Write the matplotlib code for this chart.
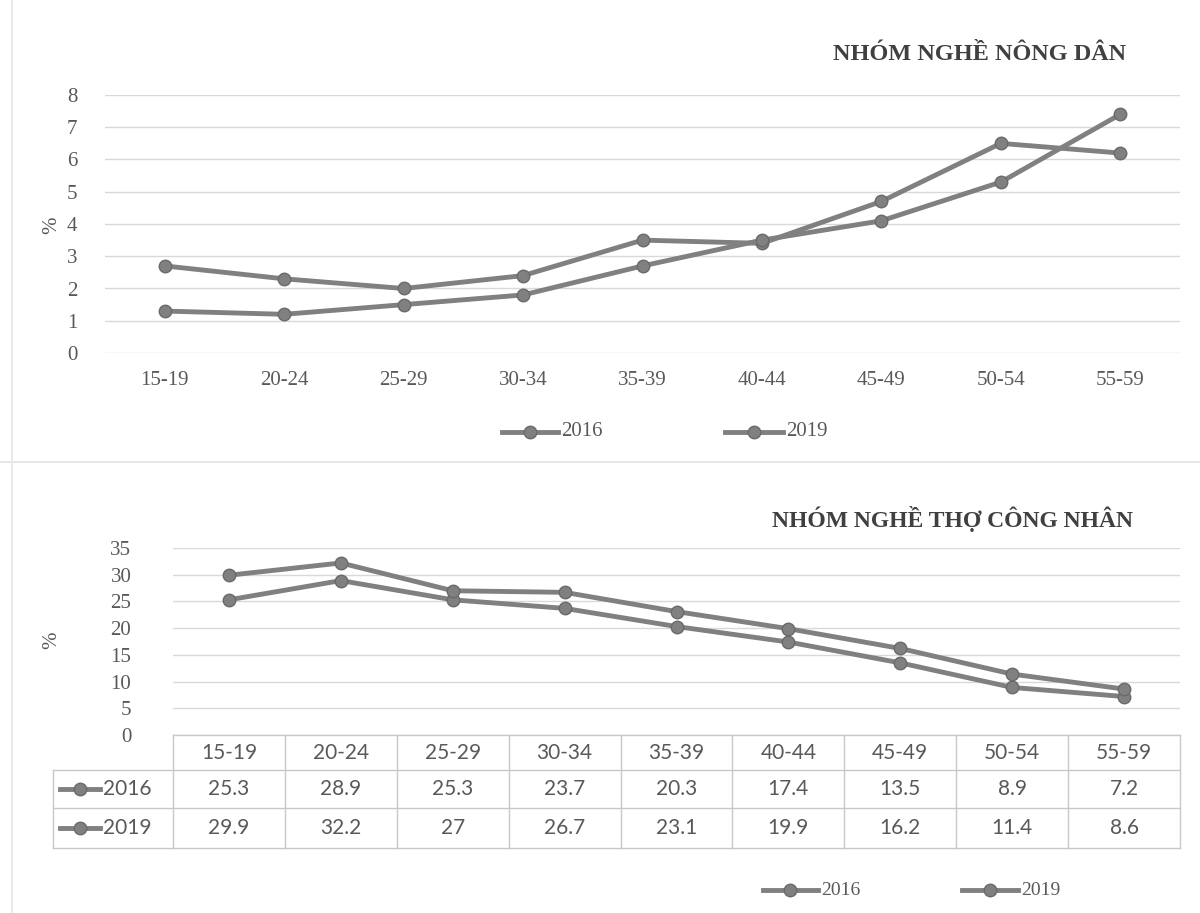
import matplotlib.pyplot as plt
from matplotlib.lines import Line2D
from matplotlib.transforms import blended_transform_factory

# du lieu doc tu hinh
age_groups = ['15-19', '20-24', '25-29', '30-34', '35-39', '40-44', '45-49', '50-54', '55-59']
years = ['2016', '2019']

nong_dan_2016 = [2.7, 2.3, 2.0, 2.4, 3.5, 3.4, 4.7, 6.5, 6.2]
nong_dan_2019 = [1.3, 1.2, 1.5, 1.8, 2.7, 3.5, 4.1, 5.3, 7.4]

cong_nhan_2016 = [25.3, 28.9, 25.3, 23.7, 20.3, 17.4, 13.5, 8.9, 7.2]
cong_nhan_2019 = [29.9, 32.2, 27, 26.7, 23.1, 19.9, 16.2, 11.4, 8.6]

W, H = 1200, 913
LINE_C = '#808080'
EDGE_C = '#6a6a6a'
GRID_C = '#d9d9d9'
TEXT_C = '#595959'
SERIF = ['Liberation Serif', 'DejaVu Serif']
SANS = ['Lato', 'DejaVu Sans']


def fx(px):
    return px / W


def fy(py):
    return 1 - py / H


def legend_item(fig, x0, x1, y, label, fontsize, family):
    fig.add_artist(Line2D([fx(x0), fx(x1)], [fy(y), fy(y)], transform=fig.transFigure,
                          color=LINE_C, lw=3.5))
    fig.add_artist(Line2D([fx((x0 + x1) / 2)], [fy(y)], transform=fig.transFigure,
                          marker='o', ms=9, color=LINE_C, mec=EDGE_C, lw=0))
    fig.text(fx(x1 + 3), fy(y), label, fontsize=fontsize, family=family,
             color=TEXT_C, va='center', ha='left')


def draw_series(ax, values):
    ax.plot(range(len(age_groups)), values, color=LINE_C, lw=3.5, marker='o', ms=9,
            mec=EDGE_C, mfc=LINE_C, zorder=3)


fig = plt.figure(figsize=(W / 100, H / 100), dpi=100)
fig.patch.set_facecolor('white')

# khung giay scan
fig.add_artist(Line2D([fx(0), fx(W)], [fy(462), fy(462)], transform=fig.transFigure,
                      color='#e3e3e3', lw=1.2))
fig.add_artist(Line2D([fx(12), fx(12)], [fy(0), fy(H)], transform=fig.transFigure,
                      color='#e6e6e6', lw=1.2))

# ---- bieu do nong dan ----
ax1 = fig.add_axes([fx(105), fy(353), (1180 - 105) / W, (353 - 95) / H])
draw_series(ax1, nong_dan_2016)
draw_series(ax1, nong_dan_2019)
ax1.set_xlim(-0.5, len(age_groups) - 0.5)
ax1.set_ylim(0, 8)
ax1.set_yticks(range(0, 9))
ax1.set_xticks(range(len(age_groups)))
ax1.set_xticklabels(age_groups)
ax1.grid(axis='y', color=GRID_C, lw=1)
ax1.set_axisbelow(True)
for s in ax1.spines.values():
    s.set_visible(False)
ax1.tick_params(length=0, labelsize=15, labelcolor=TEXT_C)
ax1.tick_params(axis='x', pad=13)
ax1.tick_params(axis='y', pad=20)
for lab in ax1.get_xticklabels() + ax1.get_yticklabels():
    lab.set_family(SERIF)
fig.text(fx(52), fy(225), '%', rotation=90, fontsize=15, family=SERIF, color=TEXT_C,
         ha='center', va='center')
fig.text(fx(980), fy(55), 'NHÓM NGHỀ NÔNG DÂN', fontsize=17.5, fontweight='bold',
         family=SERIF, color='#404040', ha='center', va='center')
legend_item(fig, 502, 558, 432, years[0], 15, SERIF)
legend_item(fig, 725, 783, 432, years[1], 15, SERIF)

# ---- bieu do tho cong nhan ----
ax2 = fig.add_axes([fx(173), fy(735), (1180 - 173) / W, (735 - 548) / H])
draw_series(ax2, cong_nhan_2016)
draw_series(ax2, cong_nhan_2019)
ax2.set_xlim(-0.5, len(age_groups) - 0.5)
ax2.set_ylim(0, 35)
ax2.set_yticks(range(0, 36, 5))
ax2.set_xticks([])
ax2.grid(axis='y', color=GRID_C, lw=1)
ax2.set_axisbelow(True)
for s in ax2.spines.values():
    s.set_visible(False)
ax2.tick_params(length=0, labelsize=15, labelcolor=TEXT_C, pad=30)
for lab in ax2.get_yticklabels():
    lab.set_family(SERIF)
fig.text(fx(52), fy(640), '%', rotation=90, fontsize=15, family=SERIF, color=TEXT_C,
         ha='center', va='center')
fig.text(fx(952), fy(519), 'NHÓM NGHỀ THỢ CÔNG NHÂN', fontsize=17, fontweight='bold',
         family=SERIF, color='#404040', ha='center', va='center')

# bang du lieu duoi truc
tr = blended_transform_factory(ax2.transData, fig.transFigure)
TBL_C = '#c8c8c8'
row_top, row_h1, row_h2, row_bot = 735, 770, 808, 848
n = len(age_groups)
fig.add_artist(Line2D([-0.5, n - 0.5], [fy(row_top), fy(row_top)], transform=tr,
                      color=TBL_C, lw=1))
for y in [row_h1, row_h2, row_bot]:
    fig.add_artist(Line2D([fx(53), fx(1180)], [fy(y), fy(y)], transform=fig.transFigure,
                          color=TBL_C, lw=1))
fig.add_artist(Line2D([fx(53), fx(53)], [fy(row_h1), fy(row_bot)], transform=fig.transFigure,
                      color=TBL_C, lw=1))
for i in range(n + 1):
    fig.add_artist(Line2D([i - 0.5, i - 0.5], [fy(row_top), fy(row_bot)], transform=tr,
                          color=TBL_C, lw=1))
for i, g in enumerate(age_groups):
    fig.text(i, fy((row_top + row_h1) / 2), g, transform=tr, ha='center', va='center',
             fontsize=15, family=SANS, color=TEXT_C)
    fig.text(i, fy((row_h1 + row_h2) / 2), f'{cong_nhan_2016[i]:g}', transform=tr,
             ha='center', va='center', fontsize=15, family=SANS, color=TEXT_C)
    fig.text(i, fy((row_h2 + row_bot) / 2), f'{cong_nhan_2019[i]:g}', transform=tr,
             ha='center', va='center', fontsize=15, family=SANS, color=TEXT_C)
legend_item(fig, 60, 100, (row_h1 + row_h2) / 2, years[0], 15, SANS)
legend_item(fig, 60, 100, (row_h2 + row_bot) / 2, years[1], 15, SANS)

legend_item(fig, 763, 818, 890, years[0], 14, SERIF)
legend_item(fig, 962, 1018, 890, years[1], 14, SERIF)

fig.savefig('out.png', dpi=100)
